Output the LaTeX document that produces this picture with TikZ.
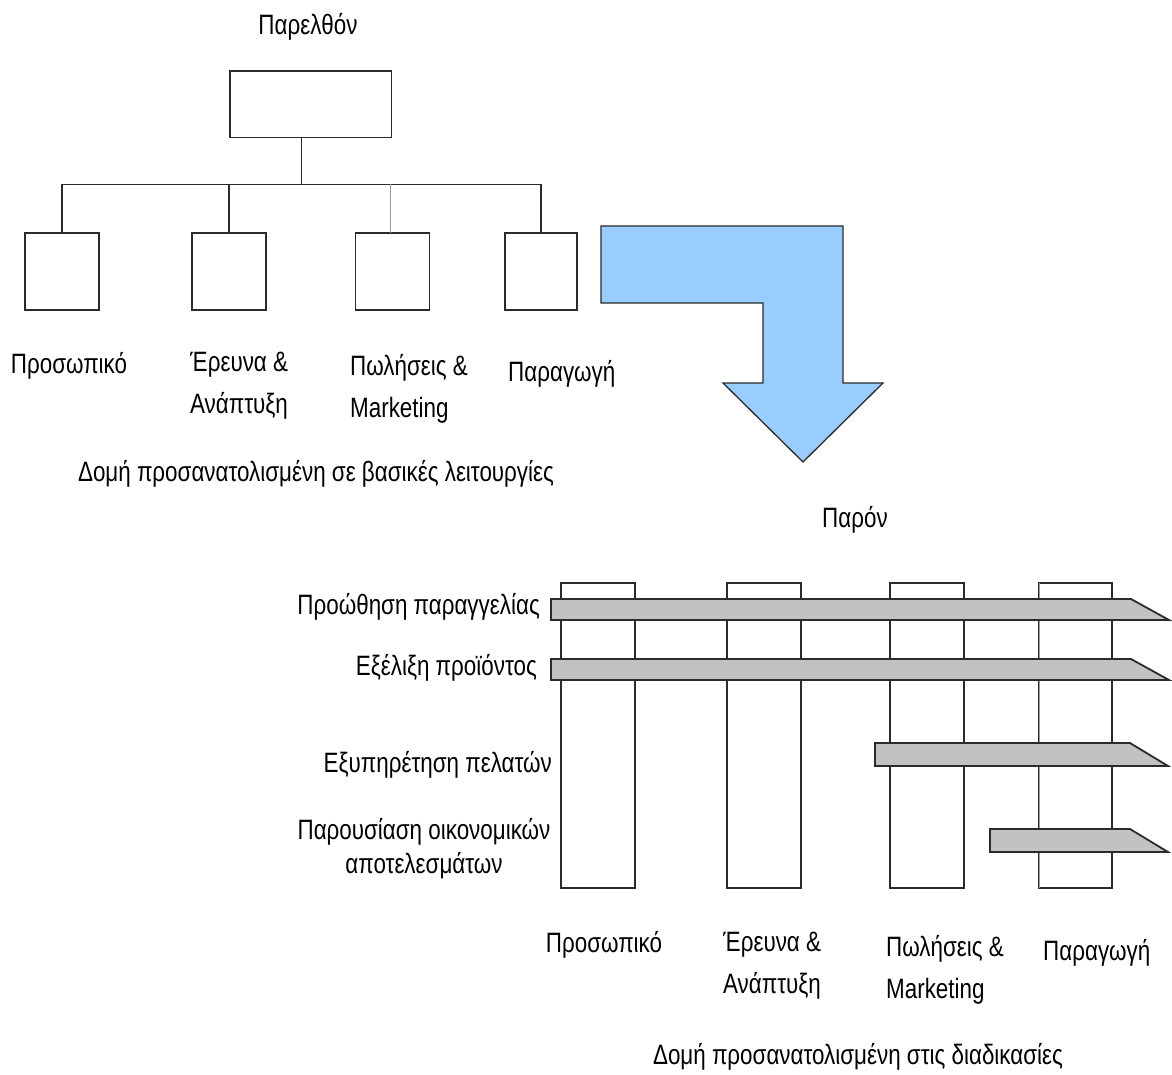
\documentclass[tikz,border=0pt]{standalone}
\usepackage{fontspec}
\setmainfont{Liberation Sans}[FakeStretch=0.8]
\definecolor{linec}{HTML}{2B2B2B}
\definecolor{lightline}{HTML}{9A9A9A}
\definecolor{barfill}{HTML}{C2C2C2}
\definecolor{arrowfill}{HTML}{99CCFF}
\begin{document}
\begin{tikzpicture}[x=1pt,y=-1pt,
  box/.style={draw=linec, line width=1.8pt, fill=white, minimum width=74pt, minimum height=77pt, inner sep=0pt, outer sep=0pt},
  colbox/.style={draw=linec, line width=1.8pt, fill=white, minimum width=74pt, minimum height=305pt, inner sep=0pt, outer sep=0pt},
  conn/.style={draw=linec, line width=1.8pt},
  lightconn/.style={draw=lightline, line width=1.5pt},
  barshape/.style={draw=linec, line width=1.8pt, fill=barfill, line join=miter},
  bigarrow/.style={draw=linec, line width=1.3pt, fill=arrowfill},
  lbl/.style={font=\fontsize{28}{42}\selectfont, inner sep=0pt, align=left},
  rowlbl/.style={font=\fontsize{28}{34}\selectfont, inner sep=0pt, align=center}]
\useasboundingbox (0,0) rectangle (1172,1075);
\fill[white] (0,0) rectangle (1172,1075);

% ---------- past: tree ----------
\node[lbl] (t1) at (308,27) {Παρελθόν};
\node[box, minimum width=161.5pt, minimum height=66.5pt] (top) at (310.75,104.25) {};
\node[box] (b1) at (62,271.7) {};
\node[box] (b2) at (228.7,271.7) {};
\node[box] (b3) at (392.5,271.7) {};
\node[box, minimum width=72pt] (b4) at (541,271.7) {};
\coordinate (j) at (301.5,184.5);
\draw[conn] (j |- top.south) -- (j);
\draw[conn] (b1.north |- j) -- (b4.north |- j);
\draw[conn] (b1.north) -- (b1.north |- j);
\draw[conn] (b2.north) -- (b2.north |- j);
\draw[lightconn] ([xshift=-1.8pt]b3.north) -- ([xshift=-1.8pt]b3.north |- j);
\draw[conn] (b4.north) -- (b4.north |- j);

\node[lbl] (l1) at (69,366) {Προσωπικό};
\node[lbl, anchor=west] (l2) at (190,386) {Έρευνα \&\\Ανάπτυξη};
\node[lbl, anchor=west] (l3) at (350,389) {Πωλήσεις \&\\Marketing};
\node[lbl, anchor=west] (l4) at (508,374) {Παραγωγή};
\node[lbl] (cap1) at (316,474) {Δομή προσανατολισμένη σε βασικές λειτουργίες};

% ---------- transition arrow ----------
\draw[bigarrow] (601,226) -- (843,226) -- (843,383) -- (883,383) -- (803,462)
  -- (723,383) -- (763,383) -- (763,303) -- (601,303) -- cycle;

% ---------- present: process matrix ----------
\node[lbl] (t2) at (855,520) {Παρόν};
\node[colbox] (c1) at (597.7,735.5) {};
\node[colbox] (c2) at (764,735.5) {};
\node[colbox] (c3) at (927,735.5) {};
\node[colbox, minimum width=72.5pt] (c4) at (1075.5,735.5) {};
\draw[lightconn] (c4.north west) -- (c4.south west);

\draw[barshape] (551,599) -- (1131,599) -- (1169,620) -- (551,620) -- cycle;
\draw[barshape] (551,659) -- (1131,659) -- (1169,680) -- (551,680) -- cycle;
\draw[barshape] (875,743) -- (1130,743) -- (1168,766) -- (875,766) -- cycle;
\draw[barshape] (990,829) -- (1130,829) -- (1168,852) -- (990,852) -- cycle;

\node[lbl, anchor=east] (r1) at (540,607) {Προώθηση παραγγελίας};
\node[lbl, anchor=east] (r2) at (537,668) {Εξέλιξη προϊόντος};
\node[lbl, anchor=east] (r3) at (552,765) {Εξυπηρέτηση πελατών};
\node[rowlbl] (r4) at (424,849) {Παρουσίαση οικονομικών\\αποτελεσμάτων};

\node[lbl] (m1) at (604,945) {Προσωπικό};
\node[lbl, anchor=west] (m2) at (723,966) {Έρευνα \&\\Ανάπτυξη};
\node[lbl, anchor=west] (m3) at (886,970) {Πωλήσεις \&\\Marketing};
\node[lbl, anchor=west] (m4) at (1043,953) {Παραγωγή};
\node[lbl] (cap2) at (858,1057) {Δομή προσανατολισμένη στις διαδικασίες};
\end{tikzpicture}
\end{document}
